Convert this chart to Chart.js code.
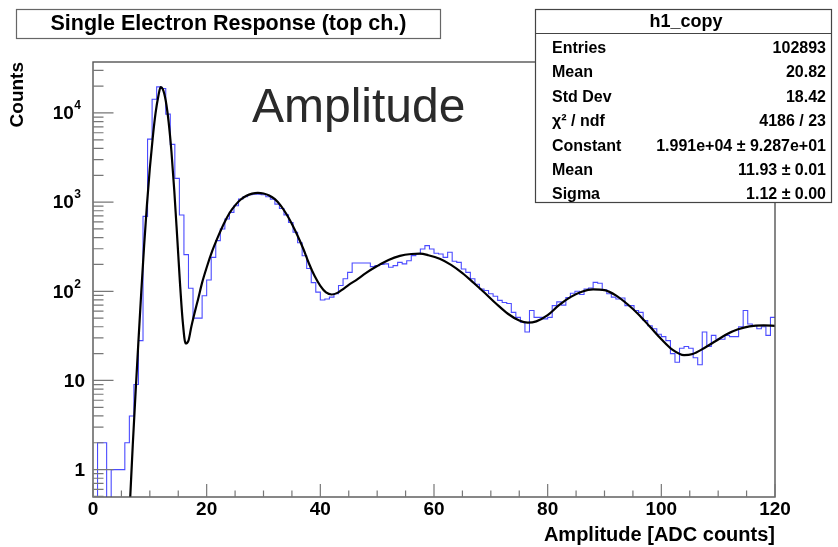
<!DOCTYPE html>
<html><head><meta charset="utf-8">
<script src="https://cdn.jsdelivr.net/npm/chart.js@4.4.1/dist/chart.umd.min.js"></script>
<style>html,body{margin:0;padding:0;background:#fff;}#wrap{width:838px;height:547px;}</style>
</head><body><div id="wrap"><canvas id="c" width="838" height="547"></canvas></div>
<script>
// ---- data ----
const binWidth = 0.8;        // 150 bins over 0..120 ADC counts
const counts = [0,2,2,0,1,1,1,2,4,9,
 28,692,5090,14280,19600,18800,9700,4450,1845,717,
 258,108,50,50,89,134,240,370,500,647,
 767,912,1083,1150,1210,1230,1230,1210,1150,1080,
 950,850,720,590,460,350,250,180,125,98,
 80,82,86,94,116,138,163,208,208,208,
 208,189,194,200,203,186,194,211,203,220,
 251,262,298,325,298,267,262,240,274,217,
 211,178,163,138,120,106,102,94,88,79,
 75,73,58,51,45,35,61,51,51,49,
 51,69,76,70,85,95,100,92,106,109,
 126,123,104,94,86,82,84,69,69,61,
 58,47,41,38,33,31,28,20,16,23,
 24,23,18,15,35,24,32,29,29,32,
 31,31,40,61,43,41,38,40,32,51];
const fitX = [6.55,7.0,7.5,8.0,8.5,9.0,9.5,10.0,10.5,11.0,11.5,11.9,12.3,12.8,13.3,13.8,14.3,14.8,15.3,15.8,16.3,16.8,17.3,17.9,18.5,19.2,20,21,22,23,24,25,26,27,28,29,30,31,32,33,34,35,36,37,38,39,40,41,42,43,44,45,46.5,48,50,52,54,56,57.5,59,61,63,65,67,69,71,73,75,76.5,78,80,82,84,86,88,90,92,94,96,98,100,102,104,105.5,107.5,109.5,111.5,113.5,115.5,118,120];
const fitY = [0.49,1.9,7.5,28,100,330,950,2400,5200,9900,15500,19500,18400,13700,8000,3700,1350,420,125,45,26,28,40,58,82,125,185,285,410,570,750,920,1070,1180,1245,1270,1250,1190,1080,920,740,570,420,300,205,148,115,97,92,96,106,118,136,160,192,225,250,262,264,254,232,198,160,124,95,72,56,47,44.5,46,54,70,86,99,105,103,90,72,55,40,29,22,19.2,19.8,23,27.5,33,37.5,40.5,41.5,41];
const xTickLabels = [0,20,40,60,80,100,120];
const yTickValues = [1,10,100,1000,10000];
const yTickLabels = ['1','10','10^2','10^3','10^4'];
const titleText = 'Single Electron Response (top ch.)';
const statsTitle = 'h1_copy';
const statsNames = ['Entries','Mean','Std Dev','\u03c7\u00b2 / ndf','Constant','Mean','Sigma'];
const statsValues = ['102893','20.82','18.42','4186 / 23','1.991e+04 \u00b1 9.287e+01','11.93 \u00b1 0.01','1.12 \u00b1 0.00'];
const xTitle = 'Amplitude [ADC counts]';
const yTitle = 'Counts';
const bigLabel = 'Amplitude';

// ---- build datasets ----
const FONT = "'Liberation Sans', Arial, Helvetica, sans-serif";
const FLOOR = 1e-3; // empty bins drawn below the axis floor
const histPoints = counts.map((c, i) => ({x: i * binWidth, y: c > 0 ? c : FLOOR}));
histPoints.push({x: counts.length * binWidth, y: counts[counts.length - 1] > 0 ? counts[counts.length - 1] : FLOOR});
const fitPoints = fitX.map((x, i) => ({x, y: fitY[i]}));

const rootPlugin = {
  id: 'rootStyle',
  afterDatasetsDraw(chart) {
    const {ctx, chartArea: a, scales: {x, y}} = chart;
    ctx.save();
    ctx.strokeStyle = '#555';
    ctx.lineWidth = 1.4;
    ctx.strokeRect(a.left, a.top, a.right - a.left, a.bottom - a.top);
    ctx.strokeStyle = '#777';
    ctx.lineWidth = 1.2;
    ctx.beginPath();
    for (let v = 0; v <= 120; v += 5) {
      const px = x.getPixelForValue(v);
      const len = (v % 20 === 0) ? 13 : 6.5;
      ctx.moveTo(px, a.bottom); ctx.lineTo(px, a.bottom - len);
    }
    for (let d = 0.1; d <= 1e4; d *= 10) {
      for (let m = 1; m <= 9; m++) {
        const v = m * d;
        if (v < y.min || v > y.max) continue;
        const py = y.getPixelForValue(v);
        const len = m === 1 ? 20.5 : 10.5;
        ctx.moveTo(a.left, py); ctx.lineTo(a.left + len, py);
      }
    }
    ctx.stroke();
    ctx.fillStyle = '#000';
    ctx.textBaseline = 'middle';
    // x labels
    ctx.font = `bold 19px ${FONT}`;
    ctx.textAlign = 'center';
    xTickLabels.forEach(v => {
      ctx.fillText(String(v), x.getPixelForValue(v), a.bottom + 13);
    });
    // y labels
    yTickValues.forEach((v, i) => {
      const py = y.getPixelForValue(v);
      const lab = yTickLabels[i];
      if (lab.includes('^')) {
        const [base, ex] = lab.split('^');
        ctx.font = `bold 12px ${FONT}`;
        ctx.textAlign = 'right';
        ctx.fillText(ex, 81, py - 7);
        const ew = ctx.measureText(ex).width;
        ctx.font = `bold 19px ${FONT}`;
        ctx.fillText(base, 81 - ew - 0.5, py + 1);
      } else {
        ctx.font = `bold 19px ${FONT}`;
        ctx.textAlign = 'right';
        ctx.fillText(lab, 85, py + 1);
      }
    });
    ctx.restore();
  },
  afterDraw(chart) {
    const {ctx} = chart;
    ctx.save();
    ctx.font = `48px ${FONT}`;
    ctx.fillStyle = '#2a2a2a';
    ctx.textAlign = 'left';
    ctx.textBaseline = 'alphabetic';
    ctx.fillText(bigLabel, 252, 122);
    // title box
    ctx.fillStyle = '#fff';
    ctx.fillRect(16.5, 9.5, 424, 29);
    ctx.strokeStyle = '#666';
    ctx.lineWidth = 1.2;
    ctx.strokeRect(16.5, 9.5, 424, 29);
    ctx.fillStyle = '#000';
    ctx.font = `bold 21.5px ${FONT}`;
    ctx.textAlign = 'center';
    ctx.textBaseline = 'middle';
    ctx.fillText(titleText, 228.5, 24.5);
    // stats box
    const bx = 535.5, by = 9.5, bw = 296, bh = 193;
    ctx.fillStyle = '#fff';
    ctx.fillRect(bx, by, bw, bh);
    ctx.strokeStyle = '#444';
    ctx.lineWidth = 1.2;
    ctx.strokeRect(bx, by, bw, bh);
    ctx.beginPath();
    ctx.moveTo(bx, 33.5); ctx.lineTo(bx + bw, 33.5);
    ctx.stroke();
    ctx.fillStyle = '#000';
    ctx.font = `bold 18px ${FONT}`;
    ctx.textAlign = 'center';
    ctx.fillText(statsTitle, 686, 22);
    ctx.font = `bold 16px ${FONT}`;
    statsNames.forEach((n, i) => {
      const ry = 48.5 + i * 24.4;
      ctx.textAlign = 'left';
      ctx.fillText(n, 552, ry);
      ctx.textAlign = 'right';
      ctx.fillText(statsValues[i], 826, ry);
    });
    ctx.restore();
  }
};

new Chart(document.getElementById('c').getContext('2d'), {
  type: 'line',
  data: {
    datasets: [
      {label: 'fit', data: fitPoints, borderColor: '#000', borderWidth: 2.2, pointRadius: 0,
       cubicInterpolationMode: 'monotone', fill: false, order: 0},
      {label: 'h1_copy', data: histPoints, borderColor: 'rgb(75,75,255)', borderWidth: 1.1, pointRadius: 0,
       stepped: 'before', fill: false, order: 1}
    ]
  },
  options: {
    responsive: false, devicePixelRatio: 1, animation: false,
    layout: {padding: {left: 0, top: 62, right: 63, bottom: 0}},
    plugins: {legend: {display: false}, tooltip: {enabled: false}, title: {display: false}},
    scales: {
      x: {type: 'linear', min: 0, max: 120, grid: {display: false}, border: {display: false},
          ticks: {display: false},
          title: {display: true, text: xTitle, align: 'end', color: '#000',
                  font: {family: FONT, size: 20, weight: 'bold'}, padding: {top: 0, bottom: 0}},
          afterFit: s => { s.height = 50; }},
      y: {type: 'logarithmic', min: 0.493, max: 37300, grid: {display: false}, border: {display: false},
          ticks: {display: false},
          title: {display: true, text: yTitle, align: 'end', color: '#000',
                  font: {family: FONT, size: 19, weight: 'bold'}, padding: {top: 6, bottom: 0}},
          afterFit: s => { s.width = 93; }}
    }
  },
  plugins: [rootPlugin]
});
</script></body></html>
